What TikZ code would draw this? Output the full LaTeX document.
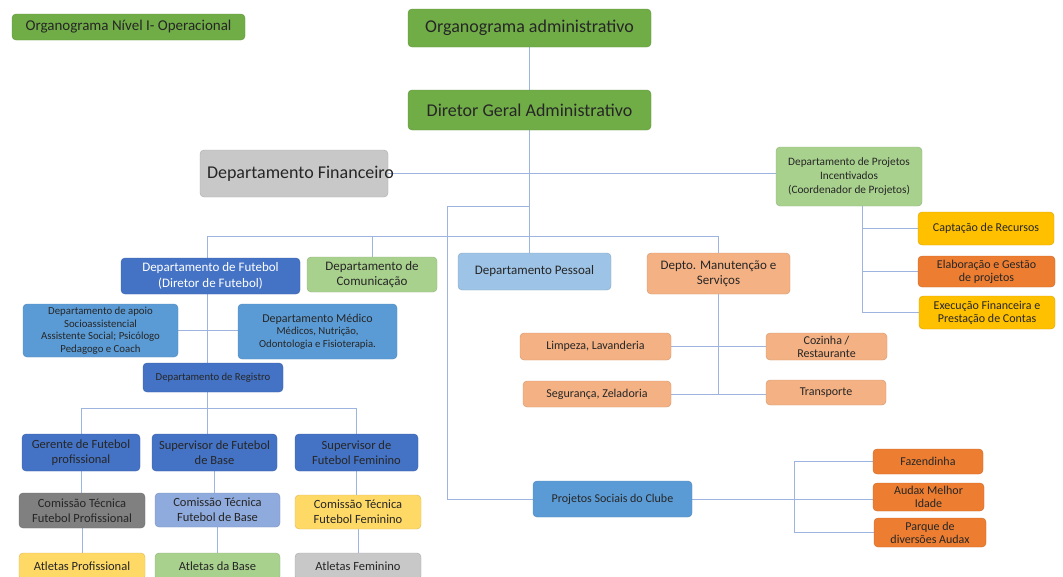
\documentclass[tikz,border=0pt]{standalone}
\usepackage{fontspec}
\setmainfont{Carlito}
\usetikzlibrary{backgrounds}

% cores das caixas
\definecolor{verde}{HTML}{70AD47}
\definecolor{verdeclaro}{HTML}{A9D18E}
\definecolor{cinza}{HTML}{C8C8C8}
\definecolor{cinzaescuro}{HTML}{808080}
\definecolor{ouro}{HTML}{FFC000}
\definecolor{ouroclaro}{HTML}{FFD966}
\definecolor{laranja}{HTML}{ED7D31}
\definecolor{salmao}{HTML}{F4B183}
\definecolor{azul}{HTML}{4472C4}
\definecolor{azulmedio}{HTML}{5B9BD5}
\definecolor{azulclaro}{HTML}{9DC3E6}
\definecolor{azulcinza}{HTML}{8FAADC}
\definecolor{linha}{HTML}{9DB4E0}

\begin{document}
\begin{tikzpicture}[x=1pt, y=-1pt,
	caixa/.style={rounded corners=4pt, align=center, inner sep=1pt,
		draw=#1!85!black, line width=0.4pt, fill=#1, text=black!85,
		font=\fontsize{12}{13}\selectfont},
	grande/.style={font=\fontsize{18}{20}\selectfont},
	media/.style={font=\fontsize{12.5}{15}\selectfont},
	liga/.style={draw=linha, line width=0.8pt}]
	\useasboundingbox (0,0) rectangle (1063,576);

	% ==================================================
	% 1. Topo: administração
	% ==================================================
	\node[caixa=verde, font=\fontsize{15}{17}\selectfont, minimum width=233, minimum height=26]
		(nivel) at (128.5,27) {Organograma Nível I- Operacional};
	\node[caixa=verde, grande, minimum width=243, minimum height=38]
		(admin) at (529.5,28) {Organograma administrativo};
	\node[caixa=verde, grande, minimum width=243, minimum height=40]
		(diretor) at (529.5,110) {Diretor Geral Administrativo};
	\node[caixa=cinza, grande, minimum width=188, minimum height=47]
		(financeiro) at (294,173.5) {\makebox[174pt][l]{Departamento Financeiro}};
	\node[caixa=verdeclaro, font=\fontsize{11.3}{14}\selectfont, minimum width=146, minimum height=59]
		(incent) at (849,176.5) {Departamento de Projetos\\Incentivados\\(Coordenador de Projetos)};

	% projetos incentivados
	\node[caixa=ouro, minimum width=136, minimum height=33] (captacao) at (986,228.5) {Captação de Recursos};
	\node[caixa=laranja, minimum width=137, minimum height=31] (elabor) at (986.5,271.5) {Elaboração e Gestão\\de projetos};
	\node[caixa=ouro, minimum width=136, minimum height=33] (execucao) at (987,312.5) {Execução Financeira e\\Prestação de Contas};

	% ==================================================
	% 2. Departamentos
	% ==================================================
	\node[caixa=azul, font=\fontsize{13}{16}\selectfont, text=white, minimum width=179, minimum height=36]
		(futebol) at (210.5,276) {Departamento de Futebol\\(Diretor de Futebol)};
	\node[caixa=verdeclaro, font=\fontsize{13}{15}\selectfont, minimum width=130, minimum height=35]
		(comunic) at (372,274.5) {Departamento de\\Comunicação};
	\node[caixa=azulclaro, font=\fontsize{13}{15}\selectfont, minimum width=153, minimum height=37]
		(pessoal) at (534.5,271.5) {Departamento Pessoal};
	\node[caixa=salmao, font=\fontsize{13}{15}\selectfont, minimum width=143, minimum height=41]
		(manut) at (718.5,273.5) {Depto. Manutenção e\\Serviços};

	% futebol
	\node[caixa=azulmedio, font=\fontsize{10.8}{12.5}\selectfont, minimum width=155, minimum height=53]
		(apoio) at (100.5,330.5) {Departamento de apoio\\Socioassistencial\\Assistente Social; Psicólogo\\Pedagogo e Coach};
	\node[caixa=azulmedio, font=\fontsize{10.7}{12.5}\selectfont, minimum width=159, minimum height=55]
		(medico) at (317.5,331.5) {{\fontsize{12}{14}\selectfont Departamento Médico}\\Médicos, Nutrição,\\Odontologia e Fisioterapia.};
	\node[caixa=azul, font=\fontsize{10.7}{12}\selectfont, minimum width=140, minimum height=29]
		(registro) at (213,377.5) {Departamento de Registro};

	\node[caixa=azul, media, minimum width=118, minimum height=37] (gerente) at (81,452.5) {Gerente de Futebol\\profissional};
	\node[caixa=azul, media, minimum width=125, minimum height=37] (supbase) at (214.5,452.5) {Supervisor de Futebol\\de Base};
	\node[caixa=azul, media, minimum width=123, minimum height=37] (supfem) at (356.5,452.5) {Supervisor de\\Futebol Feminino};

	\node[caixa=cinzaescuro, media, minimum width=126, minimum height=35] (comprof) at (82,510.5) {Comissão Técnica\\Futebol Profissional};
	\node[caixa=azulcinza, media, minimum width=125, minimum height=34] (combase) at (217.5,510) {Comissão Técnica\\Futebol de Base};
	\node[caixa=ouroclaro, media, minimum width=126, minimum height=34] (comfem) at (358,512) {Comissão Técnica\\Futebol Feminino};

	\node[caixa=ouroclaro, media, minimum width=126, minimum height=27] (atlprof) at (82,566.5) {Atletas Profissional};
	\node[caixa=verdeclaro, media, minimum width=125, minimum height=27] (atlbase) at (217.5,566.5) {Atletas da Base};
	\node[caixa=cinza, media, minimum width=126, minimum height=27] (atlfem) at (358,566.5) {Atletas Feminino};

	% manutenção
	\node[caixa=salmao, minimum width=151, minimum height=27] (limpeza) at (595.5,346.5) {Limpeza, Lavanderia};
	\node[caixa=salmao, minimum width=121, minimum height=27] (cozinha) at (826.5,346.5) {Cozinha /\\Restaurante};
	\node[caixa=salmao, minimum width=148, minimum height=26] (seguranca) at (597,394) {Segurança, Zeladoria};
	\node[caixa=salmao, minimum width=120, minimum height=25] (transporte) at (826,392.5) {Transporte};

	% projetos sociais
	\node[caixa=azulmedio, minimum width=159, minimum height=36] (sociais) at (612.5,499) {Projetos Sociais do Clube};
	\node[caixa=laranja, minimum width=110, minimum height=25] (fazendinha) at (928,461.5) {Fazendinha};
	\node[caixa=laranja, minimum width=111, minimum height=28] (audax) at (928.5,497) {Audax Melhor\\Idade};
	\node[caixa=laranja, minimum width=112, minimum height=29] (parque) at (930,532.5) {Parque de\\diversões Audax};

	% ==================================================
	% 3. Ligações (atrás das caixas)
	% ==================================================
	\coordinate (barra) at (0,236);
	\coordinate (barratime) at (0,408);
	\coordinate (desvio) at (447,206);
	\coordinate (eixofut) at (207,0);
	\coordinate (eixoinc) at (862,0);
	\coordinate (eixosoc) at (794,0);

	\begin{scope}[on background layer]
	\draw[liga] (admin.south) -- (diretor.north);
	\draw[liga] (diretor.south) -- (diretor.south |- pessoal.north);
	\draw[liga] (financeiro.east) -- (financeiro.east -| incent.west);
	% barra dos departamentos
	\draw[liga] (eixofut |- futebol.north) -- (eixofut |- barra) -- (manut.north |- barra) -- (manut.north);
	\draw[liga] (comunic.north) -- (comunic.north |- barra);
	% projetos sociais
	\draw[liga] (diretor.south |- desvio) -- (desvio) |- (sociais.west);
	% projetos incentivados
	\draw[liga] (incent.south -| eixoinc) |- (execucao.west);
	\draw[liga] (eixoinc |- captacao.west) -- (captacao.west);
	\draw[liga] (eixoinc |- elabor.west) -- (elabor.west);
	% manutenção
	\draw[liga] (manut.south) -- (manut.south |- seguranca.east);
	\draw[liga] (limpeza.east) -- (cozinha.west);
	\draw[liga] (seguranca.east) -- (seguranca.east -| transporte.west);
	% futebol
	\draw[liga] (eixofut |- futebol.south) -- (eixofut |- supbase.north);
	\draw[liga] (apoio.east) -- (apoio.east -| medico.west);
	\draw[liga] (gerente.north) -- (gerente.north |- barratime) -- (supfem.north |- barratime) -- (supfem.north);
	\foreach \de/\para in {gerente/comprof, comprof/atlprof, supbase/combase,
			combase/atlbase, supfem/comfem, comfem/atlfem} {
		\draw[liga] (\de.south) -- (\de.south |- \para.north);
	}
	% projetos sociais
	\draw[liga] (sociais.east) -- (sociais.east -| audax.west);
	\draw[liga] (fazendinha.west) -| (eixosoc |- parque.west) -- (parque.west);
	\end{scope}
\end{tikzpicture}
\end{document}
